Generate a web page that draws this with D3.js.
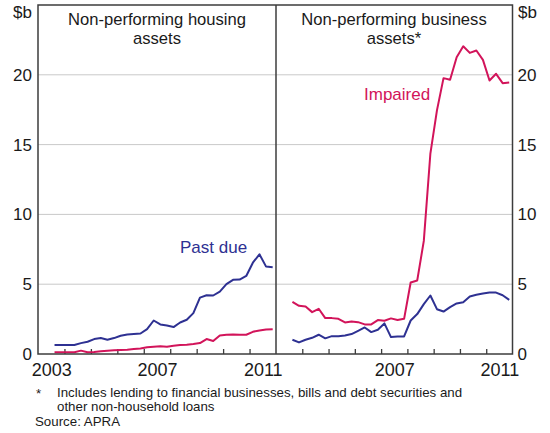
<!DOCTYPE html>
<html>
<head>
<meta charset="utf-8">
<script src="https://cdn.jsdelivr.net/npm/d3@7"></script>
<style>
  body { margin: 0; background: #fff; }
  svg { display: block; font-family: "Liberation Sans", Arial, sans-serif; }
  .axis .domain { display: none; }
</style>
</head>
<body>
<svg id="chart" width="550" height="433"></svg>
<script>
// quarterly observations, Q3 2003 to Q4 2011
var quarters = ["2003Q3","2003Q4",
  "2004Q1","2004Q2","2004Q3","2004Q4","2005Q1","2005Q2","2005Q3","2005Q4",
  "2006Q1","2006Q2","2006Q3","2006Q4","2007Q1","2007Q2","2007Q3","2007Q4",
  "2008Q1","2008Q2","2008Q3","2008Q4","2009Q1","2009Q2","2009Q3","2009Q4",
  "2010Q1","2010Q2","2010Q3","2010Q4","2011Q1","2011Q2","2011Q3","2011Q4"];

// $b
var housingPastDue = [0.64,0.64,0.65,0.64,0.78,0.88,1.07,1.14,1.02,1.14,1.31,1.40,1.43,1.47,1.78,2.40,2.12,
  2.04,1.93,2.26,2.45,2.93,4.04,4.21,4.19,4.47,5.00,5.31,5.33,5.59,6.54,7.14,6.26,6.21];
var housingImpaired = [0.12,0.12,0.12,0.12,0.24,0.12,0.14,0.19,0.24,0.26,0.29,0.31,0.36,0.40,0.48,0.52,0.55,
  0.52,0.59,0.64,0.66,0.71,0.78,1.07,0.93,1.33,1.38,1.40,1.38,1.38,1.59,1.69,1.76,1.78];
var businessPastDue = [1.02,0.83,1.02,1.16,1.38,1.12,1.28,1.28,1.33,1.43,1.66,1.90,1.57,1.74,2.19,1.21,1.26,
  1.26,2.40,2.86,3.57,4.19,3.21,3.04,3.36,3.62,3.71,4.12,4.24,4.33,4.40,4.40,4.21,3.88];
var businessImpaired = [3.74,3.45,3.40,3.00,3.24,2.57,2.57,2.52,2.26,2.33,2.28,2.12,2.12,2.43,2.38,2.55,2.43,
  2.52,5.12,5.27,8.10,14.36,17.45,19.76,19.64,21.26,22.04,21.57,21.74,21.07,19.59,20.07,19.40,19.45];

var yTicks = [0, 5, 10, 15, 20];
var leftYearLabels = [2003, 2007, 2011];
var rightYearLabels = [2007, 2011];

var blue = "#2e3192", red = "#d2145a", frame = "#3c3c3c", txt = "#1a1a1a";

var svg = d3.select("#chart");
var pLeft = 38, pMid = 276, pRight = 512.5, pTop = 5, pBottom = 354;

var y = d3.scaleLinear().domain([0, 25]).range([pBottom, pTop]);
var xL = d3.scaleLinear().domain([2003, 2012]).range([pLeft, pMid]);
var xR = d3.scaleLinear().domain([2003, 2012]).range([pMid, pRight]);

function qtime(q) {
  return +q.slice(0, 4) + (+q.slice(5) - 1) * 0.25 + 0.125;
}

// gridlines
svg.append("g").selectAll("line")
  .data(yTicks.filter(d => d > 0))
  .enter().append("line")
  .attr("x1", pLeft).attr("x2", pRight)
  .attr("y1", d => y(d)).attr("y2", d => y(d))
  .attr("stroke", "#c9c9c9").attr("stroke-width", 1);

// y axes
svg.append("g").attr("class", "axis yax")
  .attr("transform", "translate(" + (pLeft - 6) + ",0)")
  .call(d3.axisLeft(y).tickValues(yTicks).tickSize(0).tickPadding(0));
svg.append("g").attr("class", "axis yax")
  .attr("transform", "translate(" + (pRight + 5) + ",0)")
  .call(d3.axisRight(y).tickValues(yTicks).tickSize(0).tickPadding(0));
svg.selectAll(".yax text").style("font-size", "17px").attr("fill", txt);

// x ticks at year boundaries, pointing up
[xL, xR].forEach(function (x) {
  svg.append("g").attr("class", "axis")
    .attr("transform", "translate(0," + pBottom + ")")
    .call(d3.axisBottom(x).tickValues(d3.range(2004, 2012)).tickSize(-5).tickFormat(""))
    .selectAll("line").attr("stroke", frame).attr("stroke-width", 1.3);
});

// year labels centred mid-year
function yearLabels(x, years) {
  svg.append("g").attr("class", "axis")
    .attr("transform", "translate(0," + pBottom + ")")
    .call(d3.axisBottom(x).tickValues(years.map(d => d + 0.5)).tickSize(0).tickPadding(9)
      .tickFormat(d => Math.floor(d)))
    .selectAll("text").style("font-size", "18px").attr("fill", txt);
}
yearLabels(xL, leftYearLabels);
yearLabels(xR, rightYearLabels);

// lines
function drawLine(x, values, color) {
  var line = d3.line().x((d, i) => x(qtime(quarters[i]))).y(d => y(d));
  svg.append("path").datum(values)
    .attr("d", line).attr("fill", "none")
    .attr("stroke", color).attr("stroke-width", 2).attr("stroke-linejoin", "round");
}
drawLine(xL, housingImpaired, red);
drawLine(xL, housingPastDue, blue);
drawLine(xR, businessPastDue, blue);
drawLine(xR, businessImpaired, red);

// frame
svg.append("rect").attr("x", pLeft).attr("y", pTop)
  .attr("width", pRight - pLeft).attr("height", pBottom - pTop)
  .attr("fill", "none").attr("stroke", frame).attr("stroke-width", 1.5);
svg.append("line").attr("x1", pMid).attr("x2", pMid).attr("y1", pTop).attr("y2", pBottom)
  .attr("stroke", frame).attr("stroke-width", 1.5);

// units
svg.append("text").attr("x", 32).attr("y", 18).attr("text-anchor", "end")
  .style("font-size", "17px").attr("fill", txt).text("$b");
svg.append("text").attr("x", 518).attr("y", 18)
  .style("font-size", "17px").attr("fill", txt).text("$b");

// panel titles, one text per line
function title(cx, lines) {
  lines.forEach(function (s, i) {
    svg.append("text").attr("text-anchor", "middle")
      .attr("x", cx).attr("y", 25 + i * 19)
      .style("font-size", "16.6px").attr("fill", txt).text(s);
  });
}
title(157, ["Non-performing housing", "assets"]);
title(394, ["Non-performing business", "assets*"]);

// series labels
svg.append("text").attr("x", 180).attr("y", 252.5)
  .style("font-size", "17px").attr("fill", blue).text("Past due");
svg.append("text").attr("x", 364).attr("y", 100)
  .style("font-size", "17px").attr("fill", red).text("Impaired");

// notes
var notes = svg.append("g").style("font-size", "13.3px").attr("fill", txt);
notes.append("text").attr("x", 36).attr("y", 398).text("*");
notes.append("text").attr("x", 57).attr("y", 397)
  .text("Includes lending to financial businesses, bills and debt securities and");
notes.append("text").attr("x", 57).attr("y", 411).text("other non-household loans");
notes.append("text").attr("x", 35).attr("y", 426).text("Source: APRA");
</script>
</body>
</html>
